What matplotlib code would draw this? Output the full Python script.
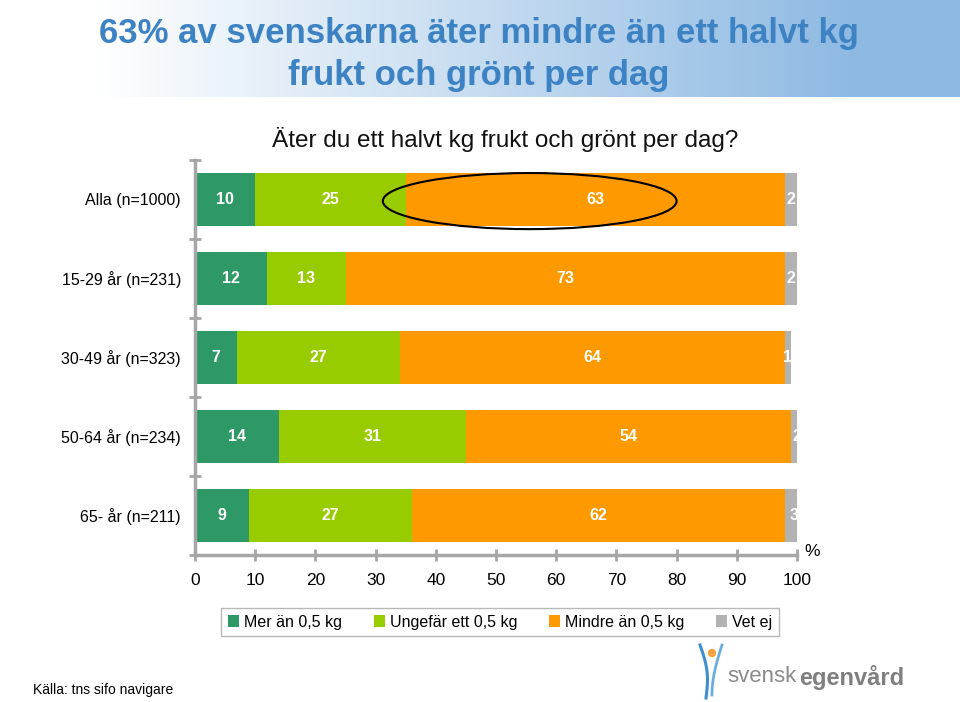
import matplotlib.pyplot as plt
import numpy as np
from matplotlib.colors import LinearSegmentedColormap
from matplotlib.patches import Ellipse, Patch

plt.rcParams['font.family'] = ['Liberation Sans', 'DejaVu Sans']

# data
groups = ['Alla (n=1000)', '15-29 år (n=231)', '30-49 år (n=323)', '50-64 år (n=234)', '65- år (n=211)']
series = ['Mer än 0,5 kg', 'Ungefär ett 0,5 kg', 'Mindre än 0,5 kg', 'Vet ej']
mer = [10, 12, 7, 14, 9]
ungefar = [25, 13, 27, 31, 27]
mindre = [63, 73, 64, 54, 62]
vetej = [2, 2, 1, 2, 3]
colors = ['#2E9866', '#99CC00', '#FF9900', '#B2B2B2']

title1 = '63% av svenskarna äter mindre än ett halvt kg'
title2 = 'frukt och grönt per dag'
subtitle = 'Äter du ett halvt kg frukt och grönt per dag?'
source = 'Källa: tns sifo navigare'

W, H = 960, 702
fig = plt.figure(figsize=(W / 100, H / 100), dpi=100)

# header banner with gradient
bg = fig.add_axes([0, 1 - 97 / H, 1, 97 / H])
cmap = LinearSegmentedColormap.from_list('hdr', [(0, '#FFFFFF'), (0.1, '#FFFFFF'), (0.9, '#8DB9E2'), (1, '#8DB9E2')])
bg.imshow(np.linspace(0, 1, 256).reshape(1, -1), aspect='auto', cmap=cmap, extent=[0, 1, 0, 1])
bg.axis('off')

title_kw = dict(ha='center', va='center', fontsize=25, fontweight='bold', color='#3D83C4')
fig.text(479 / W, 1 - 34 / H, title1, **title_kw)
fig.text(479 / W, 1 - 75 / H, title2, **title_kw)

fig.text(505 / W, 1 - 140 / H, subtitle, ha='center', va='center', fontsize=17.5, color='#111111')

# chart
ax = fig.add_axes([195 / W, 1 - 555 / H, 602 / W, 395 / H])
y = np.arange(len(groups))
left = np.zeros(len(groups))
for vals, col in zip([mer, ungefar, mindre, vetej], colors):
    vals = np.array(vals)
    ax.barh(y, vals, left=left, height=0.66, color=col, edgecolor='none')
    for yi, l, v in zip(y, left, vals):
        ax.text(l + v / 2, yi, str(v), ha='center', va='center', color='white',
                fontsize=11.5, fontweight='bold')
    left = left + vals

ax.set_xlim(0, 100)
ax.set_ylim(len(groups) - 0.5, -0.5)
ax.set_xticks(np.arange(0, 101, 10))
ax.set_yticks(y)
ax.set_yticklabels(groups, fontsize=11.5)
ax.set_yticks(np.arange(-0.5, len(groups), 1), minor=True)
ax.tick_params(axis='y', which='major', length=0, pad=10)
ax.tick_params(axis='y', which='minor', direction='inout', length=8, width=2, color='#A6A6A6')
ax.tick_params(axis='x', direction='inout', length=8, width=2, color='#A6A6A6', labelsize=12.5, pad=9)
for s in ['top', 'right']:
    ax.spines[s].set_visible(False)
for s in ['left', 'bottom']:
    ax.spines[s].set_color('#A6A6A6')
    ax.spines[s].set_linewidth(2.5)
ax.text(101.2, 4.45, '%', ha='left', va='center', fontsize=12.5)

ax.add_patch(Ellipse((55.6, 0.02), 48.8, 0.71, fill=False, edgecolor='black', lw=1.5))

handles = [Patch(facecolor=c, edgecolor='none') for c in colors]
fig.legend(handles, series, loc='center', bbox_to_anchor=(500 / W, 1 - 622 / H), ncol=4,
           fontsize=11.5, frameon=True, fancybox=False, edgecolor='#A6A6A6',
           handlelength=0.7, handleheight=0.7, handletextpad=0.3, columnspacing=2.0,
           borderpad=0.4)

fig.text(33 / W, 1 - 690 / H, source, ha='left', va='center', fontsize=10)

# logo
lg = fig.add_axes([690 / W, 0, 230 / W, 62 / H])
lg.set_xlim(690, 920)
lg.set_ylim(702, 640)
lg.axis('off')
t = np.linspace(0, 1, 50)
lg.plot(700 + 6 * t + 4 * np.sin(np.pi * t), 645 + 53 * t, color='#3F8FD0', lw=2.2)
lg.plot(722 - 10 * np.sin(np.pi * t / 2), 645 + 50 * t, color='#6AAEE0', lw=2)
lg.add_patch(Ellipse((712, 653), 7, 7, color='#F5A241'))
lg.text(727, 677, 'svensk', ha='left', va='center', fontsize=16, color='#8A8A8A')
lg.text(799, 677, 'egenvård', ha='left', va='center', fontsize=17, color='#7F7F7F', fontweight='bold')

fig.savefig('out.png', dpi=100)
